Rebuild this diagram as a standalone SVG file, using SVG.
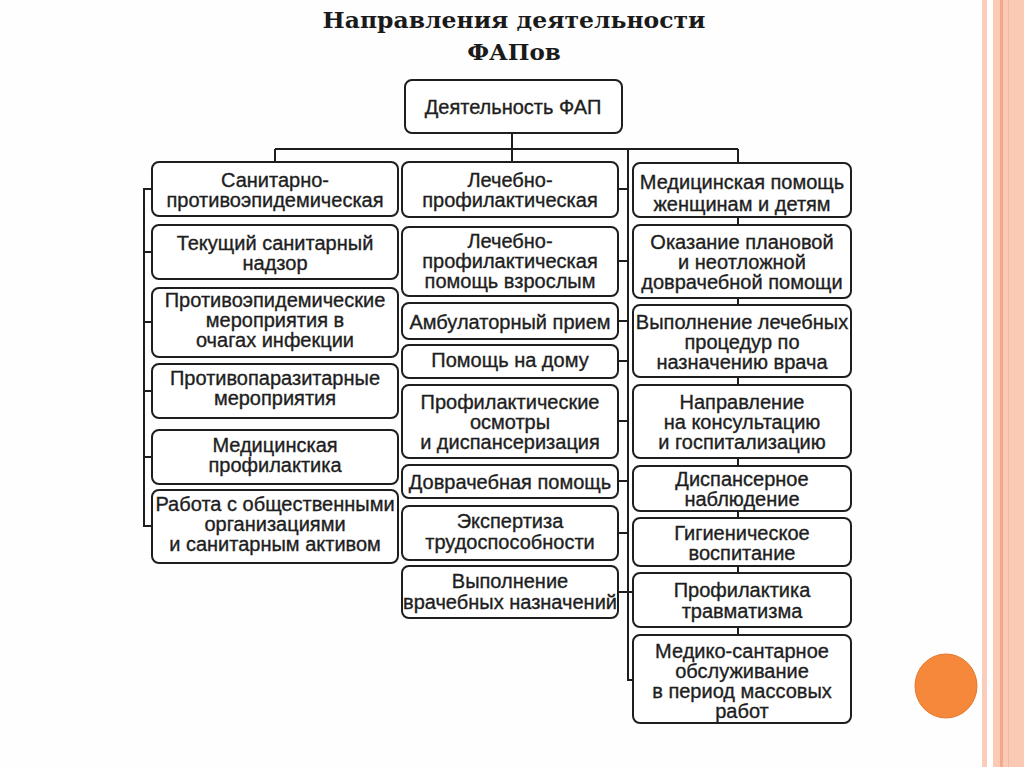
<svg xmlns="http://www.w3.org/2000/svg" width="1024" height="767" viewBox="0 0 1024 767">
<style>
.box{fill:#fff;stroke:#1e1e1e;stroke-width:2}
.t{font-family:"Liberation Sans",Arial,sans-serif;font-size:20px;fill:#1e1e1e;stroke:#1e1e1e;stroke-width:0.35;text-anchor:middle}
.ttl{font-family:"DejaVu Serif","Liberation Serif",serif;font-weight:bold;font-size:23px;fill:#1a1a1a;text-anchor:middle}
.c{fill:none;stroke:#1e1e1e;stroke-width:2}
</style>
<rect width="1024" height="767" fill="#fefefe"/>
<g id="decor">
<rect x="982" y="0" width="5" height="767" fill="#f9cdba"/>
<rect x="993" y="0" width="31" height="767" fill="#fbcab4"/>
<rect x="1000" y="0" width="3" height="767" fill="#f1aa8a"/>
<rect x="1008" y="0" width="1" height="767" fill="#f5b89e"/>
<ellipse cx="946" cy="686" rx="31" ry="32" fill="#f5883a" stroke="#e4782c" stroke-width="1"/>
</g>
<g id="title">
<text class="ttl" x="514" y="28" textLength="383" lengthAdjust="spacingAndGlyphs">Направления деятельности</text>
<text class="ttl" x="514" y="60">ФАПов</text>
</g>
<g id="connectors">
<path class="c" d="M512,133V162M275,149H738M275,149V162M738,149V163M628,149V680H633"/>
<path class="c" d="M152,189H144V526H152M144,252H152M144,322H152M144,391H152M144,457H152"/>
<path class="c" d="M618,189H628M618,261H628M618,321H628M618,361H628M618,421H628M618,481H628M618,533H628M618,592H633"/>
<path class="c" d="M738,217V225M738,298V305M738,377V385M738,458V466M738,511V518M738,566V573M738,627V635"/>
</g>
<g id="root"><rect class="box" x="405" y="80" width="217" height="53" rx="7"/><text class="t" x="513" y="114">Деятельность ФАП</text></g>
<g id="left">
<g id="l1"><rect class="box" x="152" y="162" width="246" height="54" rx="7"/><text class="t" x="275" y="187">Санитарно-</text><text class="t" x="275" y="207">противоэпидемическая</text></g>
<g id="l2"><rect class="box" x="152" y="225" width="246" height="54" rx="7"/><text class="t" x="275" y="250">Текущий санитарный</text><text class="t" x="275" y="270">надзор</text></g>
<g id="l3"><rect class="box" x="152" y="288" width="246" height="69" rx="7"/><text class="t" x="275" y="307">Противоэпидемические</text><text class="t" x="275" y="327">мероприятия в</text><text class="t" x="275" y="347">очагах инфекции</text></g>
<g id="l4"><rect class="box" x="152" y="364" width="246" height="54" rx="7"/><text class="t" x="275" y="385">Противопаразитарные</text><text class="t" x="275" y="405">мероприятия</text></g>
<g id="l5"><rect class="box" x="152" y="430" width="246" height="54" rx="7"/><text class="t" x="275" y="452">Медицинская</text><text class="t" x="275" y="472">профилактика</text></g>
<g id="l6"><rect class="box" x="152" y="490" width="246" height="73" rx="7"/><text class="t" x="275" y="511">Работа с общественными</text><text class="t" x="275" y="531">организациями</text><text class="t" x="275" y="551">и санитарным активом</text></g>
</g>
<g id="middle">
<g id="m1"><rect class="box" x="402" y="162" width="216" height="55" rx="7"/><text class="t" x="510" y="187">Лечебно-</text><text class="t" x="510" y="207">профилактическая</text></g>
<g id="m2"><rect class="box" x="402" y="227" width="216" height="69" rx="7"/><text class="t" x="510" y="248">Лечебно-</text><text class="t" x="510" y="268">профилактическая</text><text class="t" x="510" y="288">помощь взрослым</text></g>
<g id="m3"><rect class="box" x="402" y="303" width="216" height="36" rx="7"/><text class="t" x="510" y="329">Амбулаторный прием</text></g>
<g id="m4"><rect class="box" x="402" y="345" width="216" height="33" rx="7"/><text class="t" x="510" y="367">Помощь на дому</text></g>
<g id="m5"><rect class="box" x="402" y="385" width="216" height="73" rx="7"/><text class="t" x="510" y="409">Профилактические</text><text class="t" x="510" y="429">осмотры</text><text class="t" x="510" y="449">и диспансеризация</text></g>
<g id="m6"><rect class="box" x="402" y="465" width="216" height="33" rx="7"/><text class="t" x="510" y="489">Доврачебная помощь</text></g>
<g id="m7"><rect class="box" x="402" y="506" width="216" height="54" rx="7"/><text class="t" x="510" y="528">Экспертиза</text><text class="t" x="510" y="549">трудоспособности</text></g>
<g id="m8"><rect class="box" x="402" y="566" width="216" height="52" rx="7"/><text class="t" x="510" y="588">Выполнение</text><text class="t" x="510" y="609">врачебных назначений</text></g>
</g>
<g id="right">
<g id="r1"><rect class="box" x="633" y="163" width="218" height="54" rx="7"/><text class="t" x="742" y="189">Медицинская помощь</text><text class="t" x="742" y="211">женщинам и детям</text></g>
<g id="r2"><rect class="box" x="633" y="225" width="218" height="73" rx="7"/><text class="t" x="742" y="249">Оказание плановой</text><text class="t" x="742" y="269">и неотложной</text><text class="t" x="742" y="289">доврачебной помощи</text></g>
<g id="r3"><rect class="box" x="633" y="305" width="218" height="72" rx="7"/><text class="t" x="742" y="329">Выполнение лечебных</text><text class="t" x="742" y="349">процедур по</text><text class="t" x="742" y="369">назначению врача</text></g>
<g id="r4"><rect class="box" x="633" y="385" width="218" height="73" rx="7"/><text class="t" x="742" y="409">Направление</text><text class="t" x="742" y="429">на консультацию</text><text class="t" x="742" y="449">и госпитализацию</text></g>
<g id="r5"><rect class="box" x="633" y="466" width="218" height="45" rx="7"/><text class="t" x="742" y="486">Диспансерное</text><text class="t" x="742" y="506">наблюдение</text></g>
<g id="r6"><rect class="box" x="633" y="518" width="218" height="48" rx="7"/><text class="t" x="742" y="540">Гигиеническое</text><text class="t" x="742" y="560">воспитание</text></g>
<g id="r7"><rect class="box" x="633" y="573" width="218" height="54" rx="7"/><text class="t" x="742" y="597">Профилактика</text><text class="t" x="742" y="618">травматизма</text></g>
<g id="r8"><rect class="box" x="633" y="635" width="218" height="88" rx="7"/><text class="t" x="742" y="658">Медико-сантарное</text><text class="t" x="742" y="678">обслуживание</text><text class="t" x="742" y="698">в период массовых</text><text class="t" x="742" y="718">работ</text></g>
</g>
</svg>
